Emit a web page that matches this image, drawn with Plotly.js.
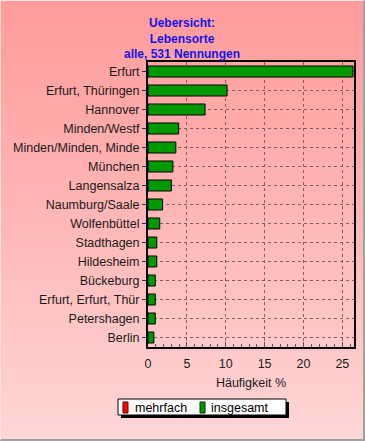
<!DOCTYPE html>
<html>
<head>
<meta charset="utf-8">
<script src="https://cdn.plot.ly/plotly-3.0.1.min.js"></script>
<style>
html, body { margin:0; padding:0; }
#wrap { width:365px; height:441px; box-sizing:border-box;
  border-top:1px solid #ffe0e0; border-left:1px solid #ffe0e0;
  border-right:2px solid #a0a0a0; border-bottom:2px solid #a0a0a0;
  background: linear-gradient(to bottom, #ff9b9b 0%, #ffb4b4 45%, #ffd6d6 100%);
  overflow:hidden; }
#chart { width:362px; height:438px; }
</style>
</head>
<body>
<div id="wrap"><div id="chart"></div></div>
<script>
const categories = ["Erfurt","Erfurt, Thüringen","Hannover","Minden/Westf","Minden/Minden, Minde","München","Langensalza","Naumburg/Saale","Wolfenbüttel","Stadthagen","Hildesheim","Bückeburg","Erfurt, Erfurt, Thür","Petershagen","Berlin"];
const insgesamt = [26.37, 10.17, 7.34, 3.95, 3.58, 3.20, 3.01, 1.88, 1.51, 1.13, 1.13, 0.94, 0.94, 0.94, 0.75];
const mehrfach = [0,0,0,0,0,0,0,0,0,0,0,0,0,0,0];
const seriesNames = ["mehrfach", "insgesamt"];
const seriesColors = ["#ff0000", "#009900"];
const xTickVals = [0,5,10,15,20,25];

const traces = [
  {type:'bar', orientation:'h', name:seriesNames[0], y:categories, x:mehrfach,
   marker:{color:seriesColors[0], line:{color:'#000000', width:1}}, width:0.58},
  {type:'bar', orientation:'h', name:seriesNames[1], y:categories, x:insgesamt,
   marker:{color:seriesColors[1], line:{color:'#000000', width:1}}, width:0.58}
];

const W = 362, H = 438;
const M = {l:147, r:9, t:61, b:92};
const PW = W - M.l - M.r, PH = H - M.t - M.b;
// page pixel -> paper coords (div is offset by 1px border)
const px = x => (x - 1 - M.l) / PW;
const py = y => (H - M.b - (y - 1)) / PH;

// custom legend (box, shadow, swatches, labels)
const legendBox = {l:118, t:399, r:286, b:415};
const shapes = [
  {type:'rect', xref:'paper', yref:'paper', layer:'above',
   x0:px(legendBox.l+3), x1:px(legendBox.r+3), y0:py(legendBox.b+3), y1:py(legendBox.t+3),
   fillcolor:'#000', line:{width:0}},
  {type:'rect', xref:'paper', yref:'paper', layer:'above',
   x0:px(legendBox.l), x1:px(legendBox.r), y0:py(legendBox.b), y1:py(legendBox.t),
   fillcolor:'#fff', line:{color:'#000', width:1}},
  {type:'rect', xref:'paper', yref:'paper', layer:'above',
   x0:px(123), x1:px(128), y0:py(413), y1:py(402),
   fillcolor:seriesColors[0], line:{color:'#600', width:1}},
  {type:'rect', xref:'paper', yref:'paper', layer:'above',
   x0:px(200), x1:px(205), y0:py(413), y1:py(402),
   fillcolor:seriesColors[1], line:{color:'#030', width:1}}
];
const annotations = [
  {xref:'paper', yref:'paper', x:px(133), y:py(407.5), xanchor:'left', yanchor:'middle',
   text:seriesNames[0], showarrow:false, font:{size:12.5, color:'#000'}},
  {xref:'paper', yref:'paper', x:px(209), y:py(407.5), xanchor:'left', yanchor:'middle',
   text:seriesNames[1], showarrow:false, font:{size:12.5, color:'#000'}}
];

const layout = {
  width:W, height:H,
  margin:{l:M.l, r:M.r, t:M.t, b:M.b, pad:0},
  paper_bgcolor:'rgba(0,0,0,0)', plot_bgcolor:'rgba(0,0,0,0)',
  font:{family:'Arial, Liberation Sans, sans-serif', size:12.5, color:'#1a1a1a'},
  barmode:'overlay',
  showlegend:false,
  title:{text:'Uebersicht:<br>Lebensorte<br>alle, 531 Nennungen',
    font:{family:'Arial, Liberation Sans, sans-serif', size:12, color:'#1414e6', weight:'bold'},
    x:0.5, xref:'container', xanchor:'center', y:1-26/H, yref:'container', yanchor:'top'},
  xaxis:{range:[0,26.5], tickvals:xTickVals, ticktext:xTickVals.map(String),
    ticks:'inside', ticklen:5, tickcolor:'#555', tickwidth:1, ticklabelstandoff:4,
    minor:{dtick:1, ticks:'inside', ticklen:3, tickcolor:'#555', showgrid:false},
    showgrid:true, gridcolor:'#8a5c5c', griddash:'3px,3px', gridwidth:1,
    showline:true, linecolor:'#000', linewidth:2, mirror:true, zeroline:false,
    title:{text:'Häufigkeit %', standoff:8, font:{size:12.5}},
    tickfont:{size:12.5}, fixedrange:true},
  yaxis:{autorange:'reversed', type:'category',
    ticks:'outside', ticklen:4, tickcolor:'#333',
    showgrid:true, gridcolor:'#8a5c5c', griddash:'3px,3px', gridwidth:1,
    showline:true, linecolor:'#000', linewidth:2, mirror:true,
    tickfont:{size:12.5}, fixedrange:true},
  shapes: shapes,
  annotations: annotations
};

Plotly.newPlot('chart', traces, layout, {displayModeBar:false, staticPlot:true});
</script>
</body>
</html>
